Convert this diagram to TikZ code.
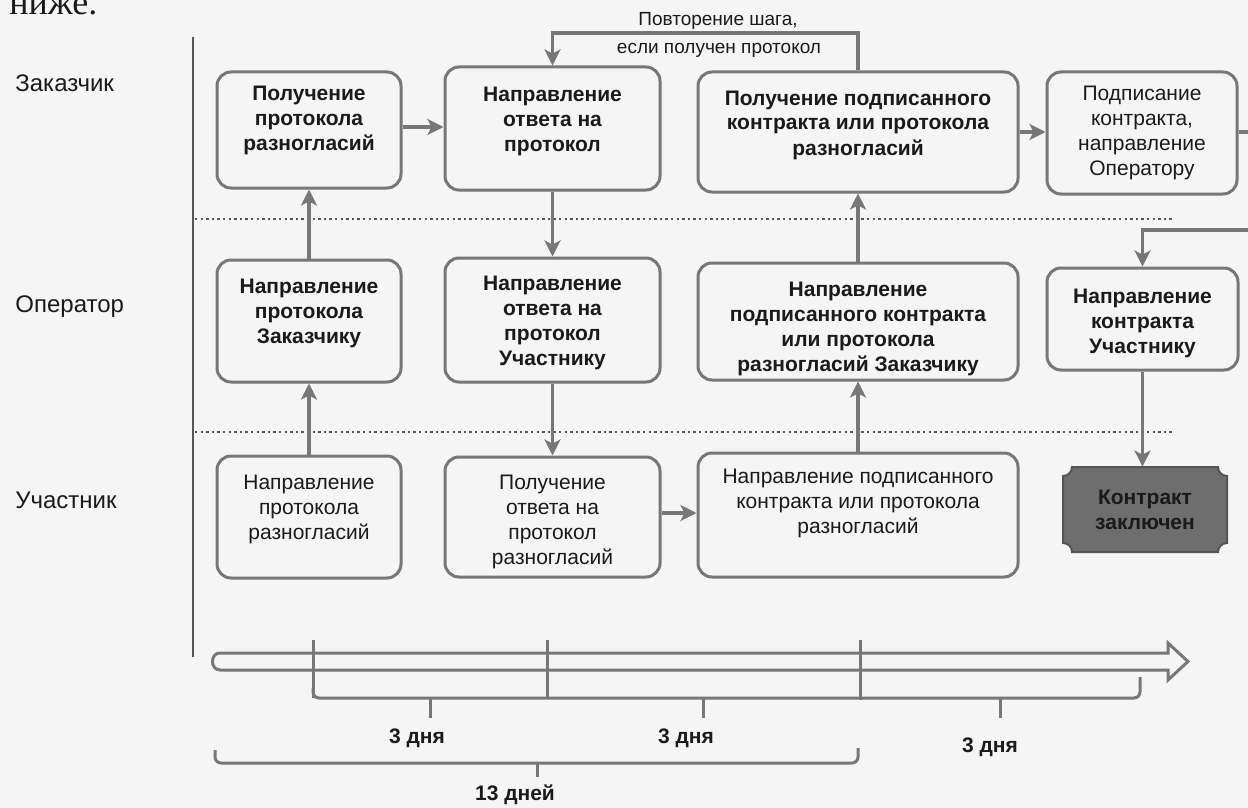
\documentclass[tikz,border=0pt]{standalone}
\usepackage{fontspec}
\setmainfont{Liberation Sans}
\newfontfamily\seriffont{Liberation Serif}
\usetikzlibrary{arrows.meta}
\definecolor{bg}{HTML}{F5F5F5}
\definecolor{ln}{HTML}{777777}
\definecolor{dk}{HTML}{555555}
\definecolor{tx}{HTML}{1A1A1A}
\definecolor{plaque}{HTML}{6E6E6E}
\newcommand{\boxtext}[2]{\raisebox{#1}[\height][\depth]{\begin{tabular}{@{}c@{}}#2\end{tabular}}}
\begin{document}
\begin{tikzpicture}[x=0.5pt,y=-0.5pt,
  box/.style={draw=ln, line width=1.5pt, rounded corners=7pt, inner sep=0pt, text=tx,
    font=\fontsize{10.5}{12.5}\selectfont, align=center},
  bbox/.style={box, font=\fontsize{10.5}{12.5}\selectfont\bfseries},
  arr/.style={draw=ln, line width=1.6pt, -{Stealth[length=8pt,width=8pt,inset=2pt]}},
  lane/.style={anchor=west, font=\fontsize{12}{14}\selectfont, text=tx, inner sep=0pt},
  sep/.style={draw=dk, line width=0.9pt, dash pattern=on 1.2pt off 1.6pt},
  tl/.style={draw=ln, line width=1.5pt},
  days/.style={font=\fontsize{10.5}{12}\selectfont\bfseries, text=tx, inner sep=0pt},
  note/.style={font=\fontsize{9.5}{11}\selectfont, text=tx, inner sep=0pt}
]
\useasboundingbox (0,0) rectangle (1248,808);
\clip (0,0) rectangle (1248,808);
\fill[bg] (0,0) rectangle (1248,808);

% cut-off text at the top
\node[anchor=base west, font=\seriffont\fontsize{18}{20}\selectfont, text=tx, inner sep=0pt] (top) at (9,15) {ниже.};

% lane labels
\node[lane] (l1) at (15,83) {Заказчик};
\node[lane] (l2) at (15,307) {Оператор};
\node[lane] (l3) at (15,500) {Участник};

% lane frame
\draw[draw=dk, line width=1pt] (193,37) -- (193,657);
\draw[sep] (195,219) -- (1173,219);
\draw[sep] (195,432) -- (1173,432);

% row 1
\node[bbox, minimum width=92pt, minimum height=58pt] (a1) at (309,130)
  {\boxtext{4.5pt}{Получение\\протокола\\разногласий}};
\node[bbox, minimum width=107.5pt, minimum height=61.5pt] (a2) at (552.5,128.5)
  {\boxtext{3.5pt}{Направление\\ответа на\\протокол}};
\node[bbox, minimum width=160pt, minimum height=60pt] (a3) at (858,132)
  {\boxtext{3.5pt}{Получение подписанного\\контракта или протокола\\разногласий}};
\node[box, minimum width=95pt, minimum height=61pt] (a4) at (1142,133)
  {\boxtext{0pt}{Подписание\\контракта,\\направление\\Оператору}};

% row 2
\node[bbox, minimum width=92pt, minimum height=61pt] (b1) at (309,321)
  {\boxtext{4pt}{Направление\\протокола\\Заказчику}};
\node[bbox, minimum width=107.5pt, minimum height=62pt] (b2) at (552.5,320)
  {\boxtext{-1.5pt}{Направление\\ответа на\\протокол\\Участнику}};
\node[bbox, minimum width=160pt, minimum height=58.5pt] (b3) at (858,321.5)
  {\boxtext{-3.5pt}{Направление\\подписанного контракта\\или протокола\\разногласий Заказчику}};
\node[bbox, minimum width=95.5pt, minimum height=51pt] (b4) at (1142.5,319)
  {\boxtext{-2pt}{Направление\\контракта\\Участнику}};

% row 3
\node[box, minimum width=92pt, minimum height=61pt] (c1) at (309,517)
  {\boxtext{4pt}{Направление\\протокола\\разногласий}};
\node[box, minimum width=107.5pt, minimum height=60pt] (c2) at (552.5,517)
  {\boxtext{-2.5pt}{Получение\\ответа на\\протокол\\разногласий}};
\node[box, minimum width=160pt, minimum height=62pt] (c3) at (858,515)
  {\boxtext{6pt}{Направление подписанного\\контракта или протокола\\разногласий}};

% final plaque with concave corners
\fill[plaque, draw=dk, line width=1pt]
  (1072,467) -- (1218,467) .. controls (1218,472) and (1222,476) .. (1227,476)
  -- (1227,543) .. controls (1222,543) and (1218,547) .. (1218,552)
  -- (1072,552) .. controls (1072,547) and (1068,543) .. (1063,543)
  -- (1063,476) .. controls (1068,476) and (1072,472) .. (1072,467) -- cycle;
\node[font=\fontsize{10.5}{12.5}\selectfont\bfseries, text=tx, align=center,
  minimum width=82pt, minimum height=42.5pt, inner sep=0pt] (c4) at (1145,509.5)
  {Контракт\\заключен};

% helper coordinates
\coordinate (r1y) at (0,127);
\coordinate (r1b) at (0,132);
\coordinate (r3y) at (0,513);
\coordinate (loopy) at (0,33);
\coordinate (redge) at (1275,0);
\coordinate (turny) at (0,230);

% connectors
\draw[arr] (c1) -- (b1);
\draw[arr] (b1) -- (a1);
\draw[arr] (a1.east |- r1y) -- (a2.west |- r1y);
\draw[arr] (a2) -- (b2);
\draw[arr] (b2) -- (c2);
\draw[arr] (c2.east |- r3y) -- (c3.west |- r3y);
\draw[arr] (c3) -- (b3);
\draw[arr] (b3) -- (a3);
\draw[arr] (a3.east |- r1b) -- (a4.west |- r1b);
\draw[arr] (a3.north) -- (a3.north |- loopy) -- (a2.north |- loopy) -- (a2.north);
\draw[arr] (a4.east |- r1b) -- (redge |- r1b) -- (redge |- turny) -- (b4.north |- turny) -- (b4.north);
\draw[arr] (b4.south) -- (c4.north -| b4.south);

% loop label
\node[note] (n1) at (718,21) {Повторение шага,};
\node[note] (n2) at (719,50) {если получен протокол};

% timeline
\draw[tl] (220,670) .. controls (210,670) and (210,653) .. (220,653) -- (1168,653)
  -- (1168,643) -- (1188,661.5) -- (1168,680) -- (1168,670) -- cycle;
\draw[tl] (313,640) -- (313,698);
\draw[tl] (547,640) -- (547,698);
\draw[tl] (860,640) -- (860,700);
\draw[tl, rounded corners=3pt] (313,688) -- (313,698) -- (1140,698) -- (1140,677);
\draw[tl] (430,698) -- (430,718);
\draw[tl] (703,698) -- (703,718);
\draw[tl] (1000,698) -- (1000,718);
\draw[tl, rounded corners=3pt] (215,750) -- (215,763) -- (858,763) -- (858,748);
\draw[tl] (537,763) -- (537,777);

\node[days] (d1) at (417,738) {3 дня};
\node[days] (d2) at (686,738) {3 дня};
\node[days] (d3) at (990,747) {3 дня};
\node[days] (d4) at (515,795) {13 дней};
\end{tikzpicture}
\end{document}
